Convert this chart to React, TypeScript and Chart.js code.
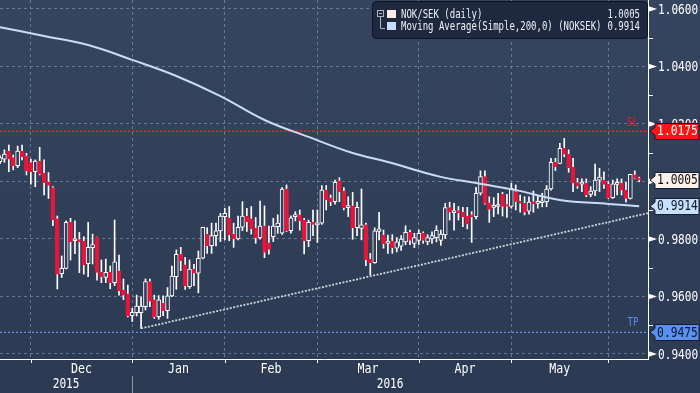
import React, { useEffect, useRef } from 'react';
import { Chart, registerables } from 'chart.js';

Chart.register(...registerables);

// ---------- data ----------
const FIRST_DATE = '2015-11-20';
const SLOT_COUNT = 148; // trading-day slots on the x axis (last ones empty)

const OPEN = [
  1.0069, 1.0078, 1.0106, 1.0083, 1.0055, 1.0106, 1.0089, 1.0066, 1.0034, 1.0071,
  1.0028, 0.9999, 0.9979, 0.9870, 0.9679, 0.9698, 0.9858, 0.9794, 0.9797, 0.9793,
  0.9714, 0.9770, 0.9807, 0.9685, 0.9666, 0.9684, 0.9648, 0.9689, 0.9623, 0.9608,
  0.9533, 0.9544, 0.9544, 0.9565, 0.9652, 0.9588, 0.9530, 0.9576, 0.9551, 0.9602,
  0.9669, 0.9747, 0.9710, 0.9634, 0.9695, 0.9681, 0.9733, 0.9816, 0.9777, 0.9812,
  0.9828, 0.9878, 0.9874, 0.9816, 0.9800, 0.9841, 0.9880, 0.9870, 0.9837, 0.9805,
  0.9845, 0.9787, 0.9808, 0.9843, 0.9820, 0.9974, 0.9829, 0.9878, 0.9884, 0.9866,
  0.9794, 0.9858, 0.9849, 0.9855, 0.9970, 0.9942, 0.9930, 1.0002, 0.9967, 0.9909,
  0.9915, 0.9839, 0.9837, 0.9849, 0.9730, 0.9718, 0.9826, 0.9814, 0.9785, 0.9793,
  0.9768, 0.9775, 0.9790, 0.9823, 0.9785, 0.9795, 0.9820, 0.9790, 0.9800, 0.9805,
  0.9795, 0.9814, 0.9909, 0.9892, 0.9897, 0.9893, 0.9880, 0.9884, 0.9878, 0.9959,
  1.0017, 0.9926, 0.9910, 0.9913, 0.9955, 0.9918, 0.9913, 0.9965, 0.9932, 0.9924,
  0.9897, 0.9930, 0.9924, 0.9926, 0.9930, 0.9974, 1.0067, 1.0063, 1.0115, 1.0095,
  1.0049, 0.9996, 0.9991, 0.9994, 0.9955, 0.9967, 1.0005, 1.0005, 0.9990, 0.9944,
  0.9990, 0.9994, 0.9970, 0.9941, 1.0023, 1.0011,
];
const HIGH = [
  1.0090, 1.0110, 1.0127, 1.0092, 1.0123, 1.0127, 1.0098, 1.0078, 1.0075, 1.0119,
  1.0075, 1.0031, 0.9982, 0.9880, 0.9741, 0.9863, 0.9872, 0.9863, 0.9823, 0.9808,
  0.9858, 0.9817, 0.9807, 0.9727, 0.9730, 0.9706, 0.9866, 0.9744, 0.9661, 0.9640,
  0.9559, 0.9605, 0.9599, 0.9661, 0.9661, 0.9605, 0.9603, 0.9602, 0.9631, 0.9706,
  0.9762, 0.9771, 0.9736, 0.9727, 0.9712, 0.9758, 0.9841, 0.9839, 0.9855, 0.9855,
  0.9889, 0.9907, 0.9913, 0.9855, 0.9880, 0.9930, 0.9907, 0.9913, 0.9875, 0.9932,
  0.9915, 0.9845, 0.9872, 0.9884, 0.9979, 0.9988, 0.9881, 0.9895, 0.9901, 0.9872,
  0.9866, 0.9901, 0.9901, 0.9986, 0.9986, 0.9953, 1.0005, 1.0013, 0.9979, 0.9947,
  0.9962, 0.9928, 0.9974, 0.9855, 0.9750, 0.9839, 0.9893, 0.9831, 0.9814, 0.9815,
  0.9805, 0.9812, 0.9846, 0.9831, 0.9820, 0.9831, 0.9825, 0.9815, 0.9825, 0.9846,
  0.9831, 0.9924, 0.9928, 0.9924, 0.9913, 0.9910, 0.9910, 0.9895, 0.9980, 1.0037,
  1.0037, 0.9947, 0.9944, 0.9959, 0.9962, 0.9955, 0.9994, 0.9988, 0.9953, 0.9947,
  0.9947, 0.9967, 0.9951, 0.9959, 0.9986, 1.0081, 1.0081, 1.0133, 1.0150, 1.0110,
  1.0081, 1.0011, 1.0009, 1.0009, 0.9982, 1.0061, 1.0046, 1.0034, 0.9999, 1.0005,
  1.0009, 1.0009, 0.9997, 1.0025, 1.0037, 1.0015,
];
const LOW = [
  1.0062, 1.0067, 1.0034, 1.0040, 1.0048, 1.0075, 1.0023, 0.9991, 0.9982, 1.0023,
  0.9953, 0.9941, 0.9846, 0.9626, 0.9666, 0.9696, 0.9727, 0.9749, 0.9683, 0.9678,
  0.9669, 0.9713, 0.9657, 0.9648, 0.9648, 0.9627, 0.9638, 0.9605, 0.9589, 0.9529,
  0.9513, 0.9532, 0.9489, 0.9553, 0.9565, 0.9524, 0.9521, 0.9533, 0.9524, 0.9599,
  0.9625, 0.9690, 0.9625, 0.9628, 0.9638, 0.9613, 0.9731, 0.9750, 0.9750, 0.9776,
  0.9791, 0.9797, 0.9794, 0.9771, 0.9797, 0.9829, 0.9826, 0.9817, 0.9785, 0.9799,
  0.9735, 0.9747, 0.9791, 0.9820, 0.9816, 0.9826, 0.9820, 0.9863, 0.9831, 0.9748,
  0.9773, 0.9812, 0.9788, 0.9851, 0.9901, 0.9916, 0.9921, 0.9930, 0.9901, 0.9878,
  0.9799, 0.9812, 0.9797, 0.9707, 0.9675, 0.9715, 0.9797, 0.9768, 0.9750, 0.9750,
  0.9755, 0.9760, 0.9780, 0.9780, 0.9770, 0.9780, 0.9785, 0.9780, 0.9785, 0.9790,
  0.9778, 0.9802, 0.9866, 0.9831, 0.9866, 0.9843, 0.9835, 0.9788, 0.9870, 0.9953,
  0.9921, 0.9858, 0.9878, 0.9887, 0.9880, 0.9875, 0.9907, 0.9901, 0.9893, 0.9884,
  0.9886, 0.9893, 0.9907, 0.9912, 0.9912, 0.9970, 1.0038, 1.0061, 1.0086, 1.0032,
  0.9965, 0.9976, 0.9965, 0.9947, 0.9947, 0.9951, 0.9965, 0.9976, 0.9941, 0.9941,
  0.9953, 0.9953, 0.9928, 0.9939, 1.0009, 0.9999,
];
const CLOSE = [
  1.0083, 1.0095, 1.0078, 1.0055, 1.0106, 1.0086, 1.0038, 1.0034, 1.0071, 1.0026,
  0.9996, 0.9986, 0.9866, 0.9678, 0.9698, 0.9858, 0.9791, 0.9797, 0.9791, 0.9710,
  0.9771, 0.9781, 0.9684, 0.9669, 0.9684, 0.9648, 0.9721, 0.9620, 0.9605, 0.9533,
  0.9545, 0.9567, 0.9567, 0.9652, 0.9584, 0.9530, 0.9588, 0.9551, 0.9602, 0.9671,
  0.9747, 0.9725, 0.9638, 0.9695, 0.9681, 0.9733, 0.9841, 0.9777, 0.9812, 0.9828,
  0.9880, 0.9889, 0.9814, 0.9800, 0.9841, 0.9880, 0.9860, 0.9835, 0.9805, 0.9845,
  0.9753, 0.9764, 0.9845, 0.9855, 0.9974, 0.9829, 0.9874, 0.9884, 0.9864, 0.9794,
  0.9858, 0.9851, 0.9855, 0.9970, 0.9936, 0.9930, 0.9997, 0.9965, 0.9909, 0.9915,
  0.9839, 0.9910, 0.9849, 0.9727, 0.9718, 0.9828, 0.9835, 0.9783, 0.9793, 0.9770,
  0.9790, 0.9800, 0.9823, 0.9795, 0.9805, 0.9820, 0.9795, 0.9805, 0.9812, 0.9830,
  0.9817, 0.9909, 0.9893, 0.9897, 0.9892, 0.9878, 0.9852, 0.9878, 0.9959, 1.0017,
  0.9924, 0.9903, 0.9915, 0.9918, 0.9913, 0.9913, 0.9976, 0.9930, 0.9924, 0.9893,
  0.9928, 0.9922, 0.9930, 0.9932, 0.9974, 1.0067, 1.0052, 1.0115, 1.0095, 1.0048,
  0.9994, 0.9984, 0.9994, 0.9953, 0.9967, 1.0005, 1.0015, 0.9990, 0.9944, 0.9992,
  0.9994, 0.9970, 0.9941, 1.0025, 1.0011, 1.0005,
];

// moving average read at sample bars: [bar index, value]
const MA_POINTS: [number, number][] = [
  [0, 1.0537], [10, 1.0506], [20, 1.0475], [30, 1.0423], [40, 1.0367],
  [50, 1.0297], [60, 1.0214], [70, 1.0155], [80, 1.0099], [88, 1.0068],
  [100, 1.0016], [108, 0.9995], [117, 0.9970], [127, 0.9936], [138, 0.9922],
  [145, 0.9914],
];
const TREND_POINTS: [number, number][] = [[32, 0.9489], [147, 0.9890]];

const SL_LEVEL = 1.0175;
const TP_LEVEL = 0.9475;
const LAST_PRICE = 1.0005;
const MA_LAST = 0.9914;

const Y_MIN = 0.93826;
const Y_MAX = 1.06313;
const Y_MAJOR = [0.94, 0.96, 0.98, 1.0, 1.02, 1.04, 1.06];
const Y_MINOR = [0.95, 0.97, 0.99, 1.01, 1.03, 1.05];

const MONTH_NAMES = ['Dec', 'Jan', 'Feb', 'Mar', 'Apr', 'May'];
const YEAR_LABELS = ['2015', '2016'];
const LEGEND_ROWS: [string, string][] = [
  ['NOK/SEK (daily)', '1.0005'],
  ['Moving Average(Simple,200,0) (NOKSEK)', '0.9914'],
];

// ---------- derived ----------
function buildDates(): string[] {
  const out: string[] = [];
  const d = new Date(FIRST_DATE + 'T00:00:00Z');
  while (out.length < SLOT_COUNT) {
    const wd = d.getUTCDay();
    if (wd !== 0 && wd !== 6) out.push(d.toISOString().slice(0, 10));
    d.setUTCDate(d.getUTCDate() + 1);
  }
  return out;
}
const LABELS = buildDates();
const MONTH_STARTS: number[] = [];
LABELS.forEach((l, i) => {
  if (i > 0 && l.slice(0, 7) !== LABELS[i - 1].slice(0, 7)) MONTH_STARTS.push(i);
});
const YEAR_START = LABELS.findIndex((l) => l.startsWith('2016'));

const sparse = (pts: [number, number][]) => {
  const arr: (number | null)[] = LABELS.map(() => null);
  pts.forEach(([i, v]) => (arr[i] = v));
  return arr;
};

const RED = '#e3163d';
const UP_FILL = '#313f5b';
const GRID = 'rgba(112,142,170,0.75)';
const FONT = '"DejaVu Sans Mono", monospace';

function txt(ctx: CanvasRenderingContext2D, s: string, x: number, y: number, size: number, color: string, align: CanvasTextAlign, charW: number) {
  ctx.font = `${size}px ${FONT}`;
  ctx.fillStyle = color;
  ctx.textAlign = align;
  ctx.textBaseline = 'middle';
  ctx.fillText(s, x, y, s.length * charW);
}

function priceBox(ctx: CanvasRenderingContext2D, y: number, label: string, fill: string, color: string) {
  const l = 655, r = 699, h = 17;
  const t = Math.round(y - h / 2) + 0.5, b = t + h - 1;
  ctx.beginPath();
  ctx.moveTo(l, t);
  ctx.lineTo(r, t);
  ctx.lineTo(r, b);
  ctx.lineTo(l, b);
  ctx.lineTo(l, y + 4);
  ctx.lineTo(650, y);
  ctx.lineTo(l, y - 4);
  ctx.closePath();
  ctx.fillStyle = fill;
  ctx.fill();
  ctx.strokeStyle = '#151d2e';
  ctx.lineWidth = 1;
  ctx.stroke();
  txt(ctx, label, 677.5, y + 0.5, 14, color, 'center', 6.8);
}

const overlay = {
  id: 'overlay',
  beforeDraw(chart: any) {
    const { ctx, width, height } = chart;
    const g = ctx.createLinearGradient(0, 0, 0, height);
    g.addColorStop(0, '#36455f');
    g.addColorStop(1, '#2c3953');
    ctx.save();
    ctx.fillStyle = g;
    ctx.fillRect(0, 0, width, height);
    ctx.restore();
  },
  afterDraw(chart: any) {
    const { ctx, chartArea: ca, scales } = chart;
    const xs = scales.x, ys = scales.y;
    ctx.save();
    ctx.strokeStyle = '#ffffff';
    ctx.lineWidth = 1;
    ctx.beginPath();
    ctx.moveTo(ca.left, ca.bottom + 0.5);
    ctx.lineTo(ca.right + 1, ca.bottom + 0.5);
    ctx.moveTo(ca.right + 0.5, ca.top);
    ctx.lineTo(ca.right + 0.5, ca.bottom + 1);
    ctx.stroke();

    // x tick marks, month and year labels
    ctx.beginPath();
    MONTH_STARTS.forEach((i) => {
      const px = Math.round(xs.getPixelForValue(i)) + 0.5;
      ctx.moveTo(px, ca.bottom);
      ctx.lineTo(px, ca.bottom + 4);
    });
    ctx.stroke();
    MONTH_NAMES.forEach((m, k) => {
      const a = xs.getPixelForValue(MONTH_STARTS[k]);
      const b = xs.getPixelForValue(MONTH_STARTS[k + 1]);
      txt(ctx, m, (a + b) / 2, 369.5, 14, '#ffffff', 'center', 7);
    });
    const ySep = xs.getPixelForValue(YEAR_START);
    txt(ctx, YEAR_LABELS[0], (ca.left + ySep) / 2, 384.5, 14, '#ffffff', 'center', 6.7);
    txt(ctx, YEAR_LABELS[1], (ySep + ca.right) / 2, 384.5, 14, '#ffffff', 'center', 6.7);
    ctx.strokeStyle = '#8d96a8';
    ctx.beginPath();
    ctx.moveTo(Math.round(ySep) + 0.5, 376);
    ctx.lineTo(Math.round(ySep) + 0.5, 393);
    ctx.stroke();

    // y ticks & labels
    Y_MAJOR.forEach((v) => {
      const y = ys.getPixelForValue(v);
      ctx.fillStyle = '#ffffff';
      ctx.beginPath();
      ctx.moveTo(ca.right, y - 3);
      ctx.lineTo(ca.right, y + 3);
      ctx.lineTo(ca.right + 9, y);
      ctx.closePath();
      ctx.fill();
      txt(ctx, v.toFixed(4), 658, y + 1, 14, '#ffffff', 'left', 6.7);
    });
    ctx.strokeStyle = '#ffffff';
    ctx.beginPath();
    Y_MINOR.forEach((v) => {
      const y = Math.round(ys.getPixelForValue(v)) + 0.5;
      ctx.moveTo(ca.right, y);
      ctx.lineTo(ca.right + 5, y);
    });
    ctx.stroke();

    // SL / TP tags
    txt(ctx, 'SL', 632.5, ys.getPixelForValue(SL_LEVEL) - 8, 12, '#e8202a', 'center', 5.4);
    txt(ctx, 'TP', 633, ys.getPixelForValue(TP_LEVEL) - 10, 12, '#5b8ff0', 'center', 5.4);

    // price boxes
    priceBox(ctx, ys.getPixelForValue(SL_LEVEL), SL_LEVEL.toFixed(4), '#ff1414', '#ffffff');
    priceBox(ctx, ys.getPixelForValue(LAST_PRICE), LAST_PRICE.toFixed(4), '#fcf2eb', '#101010');
    priceBox(ctx, ys.getPixelForValue(MA_LAST), MA_LAST.toFixed(4), '#c8e0ff', '#101828');
    priceBox(ctx, ys.getPixelForValue(TP_LEVEL), TP_LEVEL.toFixed(4), '#5c90f0', '#0a1428');

    // legend
    ctx.beginPath();
    ctx.roundRect(372.5, 1.5, 275, 37, 4);
    ctx.fillStyle = '#1e2940';
    ctx.fill();
    ctx.strokeStyle = '#0c1322';
    ctx.stroke();
    ctx.strokeStyle = '#aab4c4';
    ctx.strokeRect(377.5, 10.5, 6, 6);
    ctx.beginPath();
    ctx.moveTo(379, 13.5);
    ctx.lineTo(382, 13.5);
    ctx.moveTo(380.5, 17);
    ctx.lineTo(380.5, 28.5);
    ctx.lineTo(385, 28.5);
    ctx.stroke();
    ctx.fillStyle = '#fbece6';
    ctx.fillRect(387, 10, 9, 8);
    ctx.fillStyle = '#c6dcfa';
    ctx.fillRect(387, 22, 9, 8);
    LEGEND_ROWS.forEach(([name, val], r) => {
      const y = 14.5 + r * 12.3;
      txt(ctx, name, 401, y, 12, '#eef1f6', 'left', 5.42);
      txt(ctx, val, 640, y, 12, '#eef1f6', 'right', 5.42);
    });
    ctx.restore();
  },
};

export default function App() {
  const ref = useRef<HTMLCanvasElement | null>(null);
  useEffect(() => {
    if (!ref.current) return;
    const isUp = (i: number) => CLOSE[i] >= OPEN[i];
    const chart = new Chart(ref.current, {
      type: 'bar',
      data: {
        labels: LABELS,
        datasets: [
          {
            type: 'line',
            label: 'MA',
            data: sparse(MA_POINTS),
            borderColor: '#c8ddf4',
            borderWidth: 2,
            pointRadius: 0,
            spanGaps: true,
            tension: 0.4,
            order: 0,
          } as any,
          {
            type: 'line',
            label: 'Trend',
            data: sparse(TREND_POINTS),
            borderColor: '#d0d4dc',
            borderWidth: 1.8,
            borderDash: [2, 1.5],
            pointRadius: 0,
            spanGaps: true,
            order: 0,
          } as any,
          {
            type: 'line',
            label: 'SL',
            data: LABELS.map(() => SL_LEVEL),
            borderColor: '#ff1a1a',
            borderWidth: 1.6,
            borderDash: [2.5, 1.5],
            pointRadius: 0,
            order: 0,
          } as any,
          {
            type: 'line',
            label: 'TP',
            data: LABELS.map(() => TP_LEVEL),
            borderColor: '#5b8ff0',
            borderWidth: 1.2,
            borderDash: [2, 2],
            pointRadius: 0,
            order: 0,
          } as any,
          {
            type: 'bar',
            label: 'Body',
            data: OPEN.map((o, i) => [o, CLOSE[i]]),
            grouped: false,
            barThickness: 4,
            minBarLength: 2,
            borderSkipped: false,
            borderWidth: 1,
            backgroundColor: (c: any) => (isUp(c.dataIndex) ? UP_FILL : RED),
            borderColor: (c: any) => (isUp(c.dataIndex) ? '#ffffff' : RED),
            order: 1,
          } as any,
          {
            type: 'bar',
            label: 'Wick',
            data: LOW.map((l, i) => [l, HIGH[i]]),
            grouped: false,
            barThickness: 1,
            borderWidth: 0,
            backgroundColor: '#ffffff',
            order: 2,
          } as any,
        ],
      },
      options: {
        animation: false,
        responsive: true,
        maintainAspectRatio: false,
        events: [],
        layout: { padding: 0 },
        plugins: { legend: { display: false }, tooltip: { enabled: false } },
        scales: {
          x: {
            type: 'category',
            offset: false,
            ticks: { display: false, autoSkip: false },
            grid: {
              offset: false,
              drawTicks: false,
              color: (c: any) => (MONTH_STARTS.includes(c.index) ? GRID : 'rgba(0,0,0,0)'),
              lineWidth: 1,
            },
            border: { display: false, dash: [3, 3] },
            afterFit: (s: any) => {
              s.height = 34;
            },
          },
          y: {
            type: 'linear',
            position: 'right',
            min: Y_MIN,
            max: Y_MAX,
            ticks: { display: false },
            afterBuildTicks: (axis: any) => {
              axis.ticks = Y_MAJOR.map((v) => ({ value: v }));
            },
            grid: { drawTicks: false, color: GRID, lineWidth: 1 },
            border: { display: false, dash: [3, 3] },
            afterFit: (s: any) => {
              s.width = 52;
            },
          },
        },
      } as any,
      plugins: [overlay],
    });
    return () => chart.destroy();
  }, []);
  return (
    <div style={{ position: 'fixed', left: 0, top: 0, width: 700, height: 393 }}>
      <canvas ref={ref} />
    </div>
  );
}
